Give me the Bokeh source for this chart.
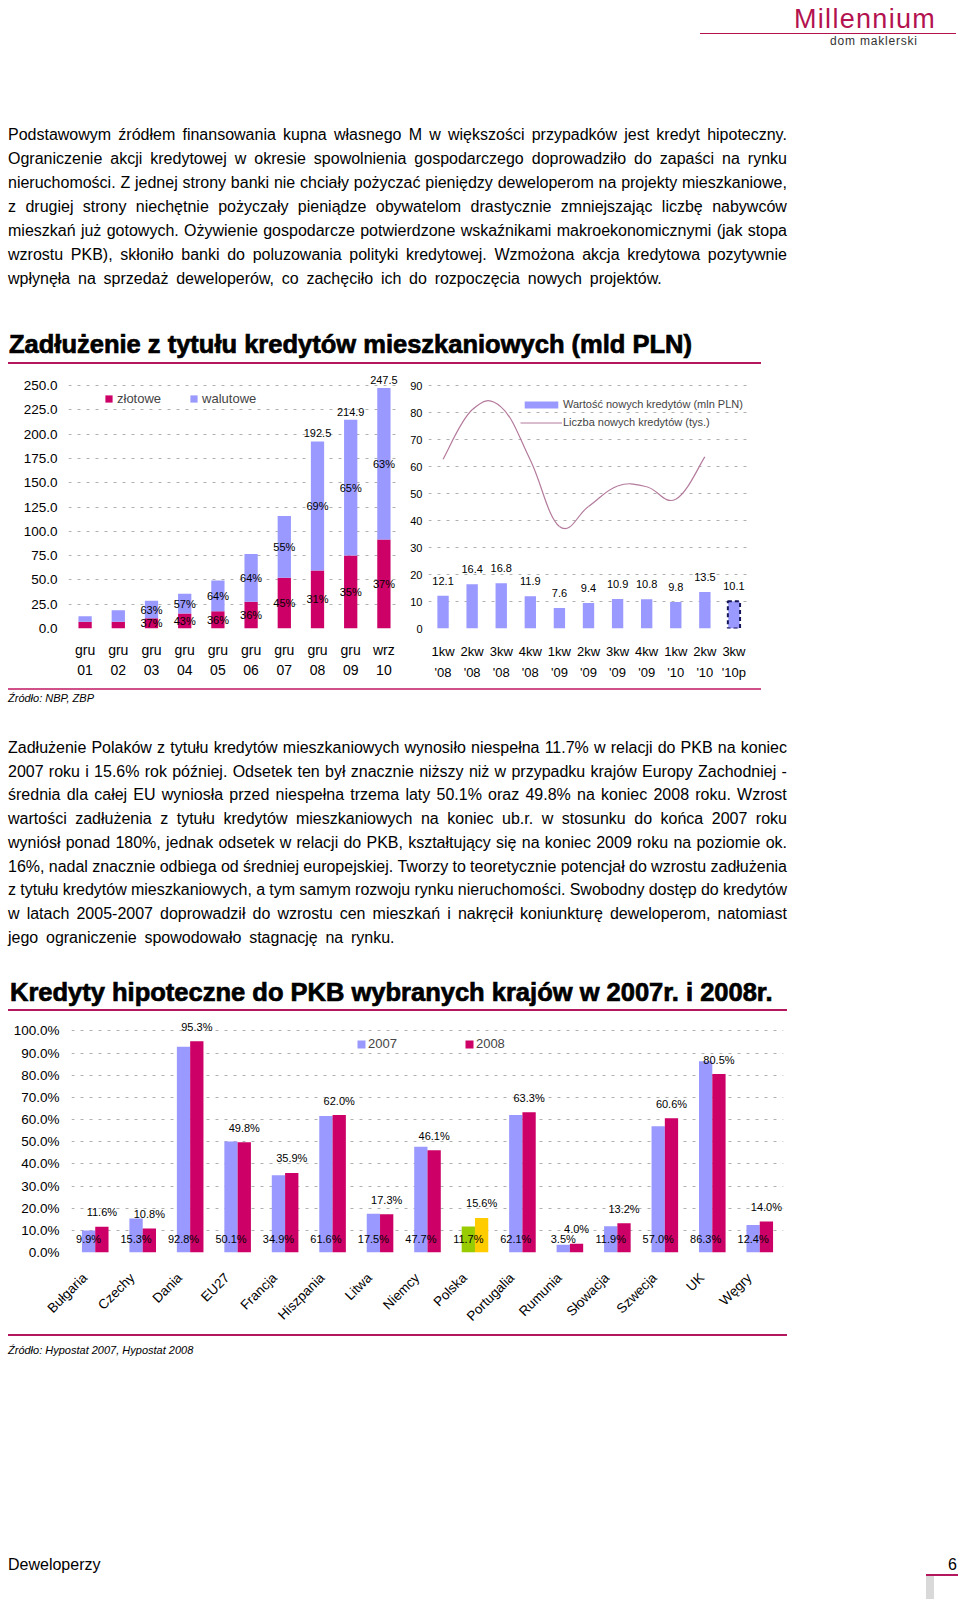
import math
from bokeh.plotting import figure
from bokeh.models import (FactorRange, Range1d, FixedTicker, PrintfTickFormatter, LinearAxis,
                          ColumnDataSource, Legend, LegendItem, Div)
from bokeh.layouts import column, row
from bokeh.transform import dodge
from bokeh.core.properties import value
from bokeh.embed import file_html
from bokeh.resources import INLINE

FONT = "Liberation Sans"
MAG = "#CC0066"
PERI = "#9999FF"
GREEN = "#99CC00"
GOLD = "#FFCC00"
GRID = "#b0b0b0"
LINE = "#B5175E"

# ---------------- data ----------------
okresy = ["gru\n01", "gru\n02", "gru\n03", "gru\n04", "gru\n05", "gru\n06",
          "gru\n07", "gru\n08", "gru\n09", "wrz\n10"]
zlotowe = [6.9, 7.0, 10.5, 15.4, 17.8, 27.6, 52.1, 59.7, 75.2, 91.6]
walutowe = [5.8, 11.9, 18.0, 20.3, 31.7, 49.0, 63.6, 132.8, 139.7, 155.9]
etykiety_sumy = ["", "", "", "", "", "", "", "192.5", "214.9", "247.5"]
udzial_zl = ["", "", "37%", "43%", "36%", "36%", "45%", "31%", "35%", "37%"]
udzial_wal = ["", "", "63%", "57%", "64%", "64%", "55%", "69%", "65%", "63%"]
ticks_1 = [0, 25, 50, 75, 100, 125, 150, 175, 200, 225, 250]

kwartaly = ["1kw\n'08", "2kw\n'08", "3kw\n'08", "4kw\n'08", "1kw\n'09", "2kw\n'09",
            "3kw\n'09", "4kw\n'09", "1kw\n'10", "2kw\n'10", "3kw\n'10p"]
wartosc = [12.1, 16.4, 16.8, 11.9, 7.6, 9.4, 10.9, 10.8, 9.8, 13.5, 10.1]
liczba = [62.7, 81.0, 82.0, 62.4, 37.8, 45.2, 52.8, 52.5, 47.9, 63.6]
ticks_2 = [0, 10, 20, 30, 40, 50, 60, 70, 80, 90]

kraje = ["Bułgaria", "Czechy", "Dania", "EU27", "Francja", "Hiszpania", "Litwa",
         "Niemcy", "Polska", "Portugalia", "Rumunia", "Słowacja", "Szwecja", "UK", "Węgry"]
pkb_2007 = [9.9, 15.3, 92.8, 50.1, 34.9, 61.6, 17.5, 47.7, 11.7, 62.1, 3.5, 11.9, 57.0, 86.3, 12.4]
pkb_2008 = [11.6, 10.8, 95.3, 49.8, 35.9, 62.0, 17.3, 46.1, 15.6, 63.3, 4.0, 13.2, 60.6, 80.5, 14.0]
ticks_3 = [0, 10, 20, 30, 40, 50, 60, 70, 80, 90, 100]

para1 = [
    "Podstawowym źródłem finansowania kupna własnego M w większości przypadków jest kredyt hipoteczny.",
    "Ograniczenie akcji kredytowej w okresie spowolnienia gospodarczego doprowadziło do zapaści na rynku",
    "nieruchomości. Z jednej strony banki nie chciały pożyczać pieniędzy deweloperom na projekty mieszkaniowe,",
    "z drugiej strony niechętnie pożyczały pieniądze obywatelom drastycznie zmniejszając liczbę nabywców",
    "mieszkań już gotowych. Ożywienie gospodarcze potwierdzone wskaźnikami makroekonomicznymi (jak stopa",
    "wzrostu PKB), skłoniło banki do poluzowania polityki kredytowej. Wzmożona akcja kredytowa pozytywnie",
    "wpłynęła na sprzedaż deweloperów, co zachęciło ich do rozpoczęcia nowych projektów.",
]
para2 = [
    "Zadłużenie Polaków z tytułu kredytów mieszkaniowych wynosiło niespełna 11.7% w relacji do PKB na koniec",
    "2007 roku i 15.6% rok później. Odsetek ten był znacznie niższy niż w przypadku krajów Europy Zachodniej -",
    "średnia dla całej EU wyniosła przed niespełna trzema laty 50.1% oraz 49.8% na koniec 2008 roku. Wzrost",
    "wartości zadłużenia z tytułu kredytów mieszkaniowych na koniec ub.r. w stosunku do końca 2007 roku",
    "wyniósł ponad 180%, jednak odsetek w relacji do PKB, kształtujący się na koniec 2009 roku na poziomie ok.",
    "16%, nadal znacznie odbiega od średniej europejskiej. Tworzy to teoretycznie potencjał do wzrostu zadłużenia",
    "z tytułu kredytów mieszkaniowych, a tym samym rozwoju rynku nieruchomości. Swobodny dostęp do kredytów",
    "w latach 2005-2007 doprowadził do wzrostu cen mieszkań i nakręcił koniunkturę deweloperom, natomiast",
    "jego ograniczenie spowodowało stagnację na rynku.",
]
tytul1 = "Zadłużenie z tytułu kredytów mieszkaniowych (mld PLN)"
tytul2 = "Kredyty hipoteczne do PKB wybranych krajów w 2007r. i 2008r."
zrodlo1 = "Źródło: NBP, ZBP"
zrodlo2 = "Źródło: Hypostat 2007, Hypostat 2008"


def style(p, tick_size):
    for ax in p.axis:
        ax.axis_line_color = None
        ax.major_tick_line_color = None
        ax.minor_tick_line_color = None
        ax.major_tick_out = 0
        ax.major_tick_in = 0
        ax.minor_tick_out = 0
        ax.major_label_text_font = FONT
        ax.major_label_text_font_size = tick_size
        ax.major_label_text_color = "black"
    p.xgrid.grid_line_color = None
    p.ygrid.grid_line_color = GRID
    p.ygrid.grid_line_dash = "3 6"
    p.ygrid.grid_line_width = 1
    p.outline_line_color = None
    p.background_fill_color = "white"
    p.border_fill_color = "white"


# ---------------- chart 1: stacked ----------------
src1 = ColumnDataSource(dict(
    okres=okresy, zl=zlotowe, wal=walutowe,
    suma=[a + b for a, b in zip(zlotowe, walutowe)],
    y_zl=[a / 2 for a in zlotowe],
    y_wal=[a + b / 2 for a, b in zip(zlotowe, walutowe)],
    t_sum=etykiety_sumy, t_zl=udzial_zl, t_wal=udzial_wal))

p1 = figure(x_range=FactorRange(factors=okresy), y_range=Range1d(0, 266.5),
            width=392, height=324, output_backend="svg", toolbar_location=None,
            min_border_left=60, min_border_right=0, min_border_top=5, min_border_bottom=60)
rs = p1.vbar_stack(["zl", "wal"], x="okres", width=0.4, color=[MAG, PERI],
                   line_color=None, source=src1)
t1 = FixedTicker(ticks=ticks_1)
p1.yaxis.ticker = t1
p1.ygrid.ticker = t1
p1.yaxis.formatter = PrintfTickFormatter(format="%.1f")
style(p1, "13.5px")
p1.xaxis.major_label_text_font_size = "14px"
p1.yaxis.major_label_standoff = 11
p1.xaxis.major_label_standoff = 13
p1.xaxis.major_label_text_line_height = 1.25
for col, ycol in (("t_zl", "y_zl"), ("t_wal", "y_wal")):
    p1.text(x="okres", y=ycol, text=col, source=src1, text_font=value(FONT),
            text_font_size="11px", text_align="center", text_baseline="middle",
            text_color="black")
p1.text(x="okres", y="suma", text="t_sum", source=src1, text_font=value(FONT),
        text_font_size="11px", text_align="center", text_baseline="bottom",
        y_offset=-4, text_color="black")
leg1 = Legend(items=[LegendItem(label="złotowe", renderers=[rs[0]]),
                     LegendItem(label="walutowe", renderers=[rs[1]])],
              orientation="horizontal", location=(36, 222), glyph_width=9, glyph_height=9,
              label_standoff=4, spacing=28, padding=0, margin=0,
              border_line_alpha=0, background_fill_alpha=0,
              label_text_font=FONT, label_text_font_size="13px", label_height=9)
p1.add_layout(leg1)

# ---------------- chart 2: new loans ----------------
src2 = ColumnDataSource(dict(kw=kwartaly, v=wartosc, t=["%.1f" % v for v in wartosc]))
p2 = figure(x_range=FactorRange(factors=kwartaly), y_range=Range1d(0, 95.93),
            width=361, height=324, output_backend="svg", toolbar_location=None,
            min_border_left=28, min_border_right=13, min_border_top=5, min_border_bottom=60)
rb = p2.vbar(x="kw", top="v", width=0.39, color=PERI, line_color=None, source=src2)
src2p = ColumnDataSource(dict(kw=kwartaly[-1:], v=wartosc[-1:]))
p2.vbar(x="kw", top="v", width=0.42, fill_alpha=0, line_color="#14145a",
        line_width=2, line_dash="4 3", source=src2p)
p2.text(x="kw", y="v", text="t", source=src2, text_font=value(FONT), text_font_size="11px",
        text_align="center", text_baseline="middle", y_offset=-15, text_color="black")

# smooth line through the data points (bezier segments)
n = len(liczba)
xs = [i + 0.5 for i in range(n)]
k = 0.2
bz = dict(x0=[], y0=[], x1=[], y1=[], cx0=[], cy0=[], cx1=[], cy1=[])
for i in range(n - 1):
    a = i - 1 if i > 0 else i
    d = i + 2 if i + 2 < n else i + 1
    bz["x0"].append(xs[i]); bz["y0"].append(liczba[i])
    bz["x1"].append(xs[i + 1]); bz["y1"].append(liczba[i + 1])
    bz["cx0"].append(xs[i] + (xs[i + 1] - xs[a]) * k)
    bz["cy0"].append(liczba[i] + (liczba[i + 1] - liczba[a]) * k)
    bz["cx1"].append(xs[i + 1] - (xs[d] - xs[i]) * k)
    bz["cy1"].append(liczba[i + 1] - (liczba[d] - liczba[i]) * k)
LCOL = "#B47A9C"
p2.bezier(x0="x0", y0="y0", x1="x1", y1="y1", cx0="cx0", cy0="cy0", cx1="cx1", cy1="cy1",
          source=ColumnDataSource(bz), line_color=LCOL, line_width=1.2)
# zero-length line used only as the legend sample
rl = p2.line(x=[xs[0], xs[0]], y=[liczba[0], liczba[0]], line_color=LCOL, line_width=1.2)
t2 = FixedTicker(ticks=ticks_2)
p2.yaxis.ticker = t2
p2.ygrid.ticker = t2
style(p2, "11px")
p2.xaxis.major_label_text_font_size = "13px"
p2.yaxis.major_label_standoff = 6
p2.xaxis.major_label_standoff = 15
p2.xaxis.major_label_text_line_height = 1.41
leg2 = Legend(items=[LegendItem(label="Wartość nowych kredytów (mln PLN)", renderers=[rb], index=0),
                     LegendItem(label="Liczba nowych kredytów (tys.)", renderers=[rl], index=0)],
              location=(92, 197), glyph_width=42, glyph_height=9, label_standoff=1,
              spacing=0, padding=0, margin=0, border_line_alpha=0, background_fill_alpha=0,
              label_text_font=FONT, label_text_font_size="11px", label_height=18)
p2.add_layout(leg2)

# ---------------- chart 3: mortgage / GDP ----------------
nk = len(kraje)
src3 = ColumnDataSource(dict(
    idx=list(range(nk)), a=pkb_2007, b=pkb_2008,
    ca=[GREEN if k_ == "Polska" else PERI for k_ in kraje],
    cb=[GOLD if k_ == "Polska" else MAG for k_ in kraje],
    ta=["%.1f%%" % v for v in pkb_2007], tb=["%.1f%%" % v for v in pkb_2008],
    zero=[0] * nk))
p3 = figure(x_range=Range1d(-0.5, nk - 0.5), y_range=Range1d(0, 106.5),
            width=786, height=322, output_backend="svg", toolbar_location=None,
            x_axis_location=None,
            min_border_left=63, min_border_right=11, min_border_top=5, min_border_bottom=81)
# label axis: same categories, labels shifted slightly left like the original
p3.extra_x_ranges = {"lab": Range1d(-0.5 + 0.22, nk - 0.5 + 0.22)}
lab_axis = LinearAxis(x_range_name="lab", ticker=FixedTicker(ticks=list(range(nk))),
                      major_label_overrides={i: k_ for i, k_ in enumerate(kraje)})
p3.add_layout(lab_axis, "below")
r07 = p3.vbar(x=dodge("idx", -0.14), top="a", width=0.28,
              fill_color="ca", line_color=None, source=src3)
r08 = p3.vbar(x=dodge("idx", 0.14), top="b", width=0.28,
              fill_color="cb", line_color=None, source=src3)
p3.text(x=dodge("idx", 0.14), y="b", text="tb", source=src3,
        text_font=value(FONT), text_font_size="11px", text_align="center",
        text_baseline="middle", y_offset=-14.5, text_color="black")
p3.text(x=dodge("idx", -0.14), y="zero", text="ta", source=src3,
        text_font=value(FONT), text_font_size="11px", text_align="center",
        text_baseline="middle", y_offset=-14, text_color="black")
t3 = FixedTicker(ticks=ticks_3)
p3.yaxis.ticker = t3
p3.ygrid.ticker = t3
p3.yaxis.formatter = PrintfTickFormatter(format="%.1f%%")
style(p3, "13.5px")
p3.yaxis.major_label_standoff = 12
lab_axis.major_label_orientation = math.pi / 4
lab_axis.major_label_standoff = 23
leg3 = Legend(items=[LegendItem(label="2007", renderers=[r07], index=0),
                     LegendItem(label="2008", renderers=[r08], index=0)],
              orientation="horizontal", location=(285, 201), glyph_width=10, glyph_height=10,
              label_standoff=2, spacing=67, padding=0, margin=0,
              border_line_alpha=0, background_fill_alpha=0,
              label_text_font=FONT, label_text_font_size="13px", label_height=10)
p3.add_layout(leg3)

# ---------------- text blocks ----------------
BASE = "font-family:'Liberation Sans',Arial,sans-serif;color:#000;"


def text_lines(lines, first_center, step, width=779):
    out = []
    for i, ln in enumerate(lines):
        top = first_center + i * step - 12
        if i < len(lines) - 1:
            spans = "".join("<span>%s</span>" % w for w in ln.split(" "))
            out.append('<div style="position:absolute;left:0;top:%.1fpx;width:%dpx;display:flex;'
                       'justify-content:space-between;white-space:nowrap;%sfont-size:16px;'
                       'line-height:24px;">%s</div>' % (top, width, BASE, spans))
        else:
            out.append('<div style="position:absolute;left:0;top:%.1fpx;white-space:nowrap;%s'
                       'font-size:16px;line-height:24px;word-spacing:3.3px;">%s</div>' % (top, BASE, ln))
    return "".join(out)


def box(left, top, w, h, color):
    return ('<div style="position:absolute;left:%spx;top:%spx;width:%spx;height:%spx;'
            'background:%s;"></div>' % (left, top, w, h, color))


def title(txt, left, center):
    return ('<div style="position:absolute;left:%spx;top:%spx;white-space:nowrap;%s'
            'font-size:25.5px;font-weight:bold;line-height:30px;-webkit-text-stroke:0.7px #000;">%s</div>'
            % (left, center - 15, BASE, txt))


def small_italic(txt, center):
    return ('<div style="position:absolute;left:0;top:%spx;white-space:nowrap;%s'
            'font-size:11px;font-style:italic;line-height:14px;">%s</div>' % (center - 7, BASE, txt))


htmlA = ('<div style="position:relative;width:950px;height:356px;">'
         + box(692, 24.5, 256, 1.5, "#B3124F")
         + '<div style="position:absolute;left:786px;top:-3.9px;white-space:nowrap;'
           'font-family:\'Liberation Sans\';font-size:27px;line-height:30px;letter-spacing:1.3px;'
           'color:#B3124F;">Millennium</div>'
         + '<div style="position:absolute;left:822px;top:26.2px;white-space:nowrap;'
           'font-family:\'Liberation Sans\';font-size:12px;line-height:14px;letter-spacing:0.8px;'
           'color:#333;">dom maklerski</div>'
         + text_lines(para1, 127, 24)
         + title(tytul1, 1, 336)
         + box(0, 354, 753, 2, LINE)
         + '</div>')
htmlB = ('<div style="position:relative;width:950px;height:323px;">'
         + box(0, 0, 753, 1.5, "#D0508A")
         + small_italic(zrodlo1, 10)
         + text_lines(para2, 60, 23.7)
         + title(tytul2, 2, 304)
         + box(0, 321, 779, 2, LINE)
         + '</div>')
htmlC = ('<div style="position:relative;width:950px;height:266px;">'
         + box(0, 1, 779, 1.5, LINE)
         + small_italic(zrodlo2, 17)
         + '<div style="position:absolute;left:0;top:222px;%sfont-size:16px;line-height:20px;">Deweloperzy</div>' % BASE
         + '<div style="position:absolute;left:940px;top:222px;%sfont-size:16px;line-height:20px;">6</div>' % BASE
         + box(918, 241, 32, 2, LINE)
         + box(918, 243, 8, 23, "#d9d9d9")
         + '</div>')

divA = Div(text=htmlA, width=950, height=356, margin=0)
divB = Div(text=htmlB, width=950, height=323, margin=0)
divC = Div(text=htmlC, width=950, height=266, margin=0)
for p in (p1, p2, p3):
    p.margin = 0

layout = column(divA, row(p1, p2, spacing=0), divB, p3, divC, spacing=0, margin=(8, 0, 0, 8))

with open("out.html", "w", encoding="utf-8") as f:
    f.write(file_html(layout, INLINE))
